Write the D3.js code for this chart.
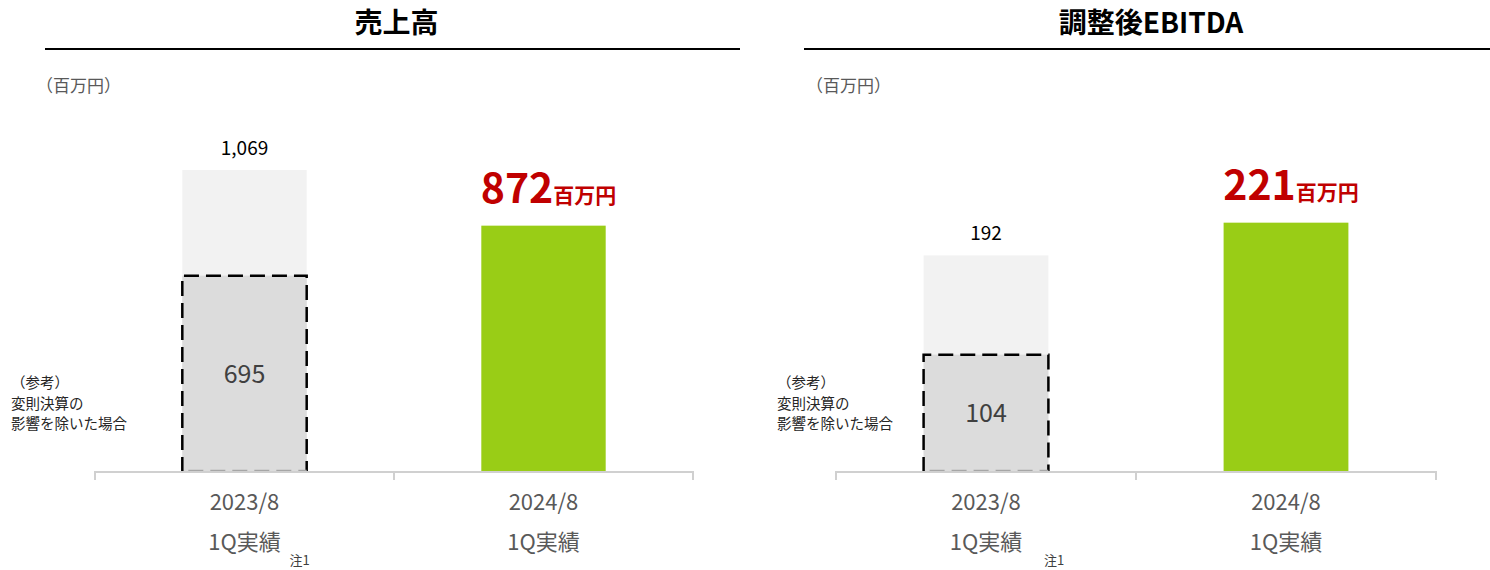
<!DOCTYPE html>
<html>
<head>
<meta charset="utf-8">
<script src="https://cdn.jsdelivr.net/npm/d3@7"></script>
<style>
  body { margin: 0; background: #fff; }
  svg { display: block; font-family: "Noto Sans CJK JP", "Noto Sans", sans-serif; }
</style>
</head>
<body>
<div id="container"></div>
<script>
// data
const categories = ["2023/8", "2024/8"];
const periodLabel = "1Q実績";
const panelTitles = ["売上高", "調整後EBITDA"];
const reported2023 = [1069, 192];   // 2023/8 1Q reported
const adjusted2023 = [695, 104];    // excluding irregular fiscal period effect
const actual2024 = [872, 221];
const yMax = [1246, 312];
const unitLabel = "（百万円）";
const unitSuffix = "百万円";
const noteLines = ["（参考）", "変則決算の", "影響を除いた場合"];
const footnote = "注1";

// layout per panel
const panels = [
  { x0: 95, x1: 693, lineX0: 45, lineX1: 740, unitX: 36, noteX: 11, footDx: 45 },
  { x0: 836, x1: 1436, lineX0: 804, lineX1: 1490, unitX: 806, noteX: 777, footDx: 58 }
];

const width = 1490, height = 570;
const baseY = 472, topY = 120;

const svg = d3.select("#container").append("svg")
  .attr("width", width)
  .attr("height", height);

panels.forEach((p, i) => {
  const g = svg.append("g");

  // title + underline
  g.append("text")
    .attr("x", (p.lineX0 + p.lineX1) / 2 + 4)
    .attr("y", 33)
    .attr("text-anchor", "middle")
    .attr("font-size", 28)
    .attr("font-weight", "bold")
    .attr("fill", "#000")
    .text(panelTitles[i]);
  g.append("line")
    .attr("x1", p.lineX0).attr("x2", p.lineX1)
    .attr("y1", 49).attr("y2", 49)
    .attr("stroke", "#000")
    .attr("stroke-width", 2);

  g.append("text")
    .attr("x", p.unitX)
    .attr("y", 92)
    .attr("font-size", 17)
    .attr("fill", "#595959")
    .text(unitLabel);

  const x = d3.scaleBand()
    .domain(categories)
    .range([p.x0, p.x1])
    .paddingInner(0.584)
    .paddingOuter(0.292);
  const y = d3.scaleLinear()
    .domain([0, yMax[i]])
    .range([baseY, topY]);
  const bw = x.bandwidth();

  const prevX = x(categories[0]);
  const curX = x(categories[1]);

  // reported bar (light)
  g.append("rect")
    .attr("x", prevX).attr("y", y(reported2023[i]))
    .attr("width", bw).attr("height", baseY - y(reported2023[i]))
    .attr("fill", "#f2f2f2");

  // adjusted bar (dashed outline)
  g.append("rect")
    .attr("x", prevX).attr("y", y(adjusted2023[i]))
    .attr("width", bw).attr("height", baseY - y(adjusted2023[i]))
    .attr("fill", "#dcdcdc");
  g.append("path")
    .attr("d", `M${prevX},${baseY}V${y(adjusted2023[i])}H${prevX + bw}V${baseY}`)
    .attr("fill", "none")
    .attr("stroke", "#000")
    .attr("stroke-width", 2.5)
    .attr("stroke-dasharray", "15,7");
  g.append("line")
    .attr("x1", prevX + 6).attr("x2", prevX + bw)
    .attr("y1", baseY - 1).attr("y2", baseY - 1)
    .attr("stroke", "#a6a6a6")
    .attr("stroke-width", 2.5)
    .attr("stroke-dasharray", "15,7");

  // current bar
  g.append("rect")
    .attr("x", curX).attr("y", y(actual2024[i]))
    .attr("width", bw).attr("height", baseY - y(actual2024[i]))
    .attr("fill", "#99cd16");

  // axis with boundary ticks
  const step = x.step();
  let d = `M${p.x0},${baseY + 8}V${baseY}H${p.x1}V${baseY + 8}`;
  d += `M${p.x0 + step},${baseY}V${baseY + 8}`;
  g.append("path")
    .attr("d", d)
    .attr("fill", "none")
    .attr("stroke", "#d0d0d0")
    .attr("stroke-width", 2);

  // value labels
  g.append("text")
    .attr("x", prevX + bw / 2)
    .attr("y", y(reported2023[i]) - 15)
    .attr("text-anchor", "middle")
    .attr("font-size", 19)
    .attr("fill", "#000")
    .text(d3.format(",")(reported2023[i]));

  g.append("text")
    .attr("x", prevX + bw / 2)
    .attr("y", (y(adjusted2023[i]) + baseY) / 2 + 9)
    .attr("text-anchor", "middle")
    .attr("font-size", 25)
    .attr("fill", "#404040")
    .text(adjusted2023[i]);

  const big = g.append("text")
    .attr("x", curX + bw / 2 + 5)
    .attr("y", y(actual2024[i]) - 23)
    .attr("text-anchor", "middle")
    .attr("font-weight", "bold")
    .attr("fill", "#c00000");
  big.append("tspan").attr("font-size", 41).text(actual2024[i]);
  big.append("tspan").attr("font-size", 21).text(unitSuffix);

  // category labels
  categories.forEach(c => {
    g.append("text")
      .attr("x", x(c) + bw / 2)
      .attr("y", 510)
      .attr("text-anchor", "middle")
      .attr("font-size", 22)
      .attr("fill", "#595959")
      .text(c);
    g.append("text")
      .attr("x", x(c) + bw / 2)
      .attr("y", 550)
      .attr("text-anchor", "middle")
      .attr("font-size", 22)
      .attr("fill", "#595959")
      .text(periodLabel);
  });

  g.append("text")
    .attr("x", prevX + bw / 2 + p.footDx)
    .attr("y", 565)
    .attr("font-size", 13)
    .attr("fill", "#404040")
    .text(footnote);

  // reference note
  g.append("g").selectAll("text")
    .data(noteLines)
    .join("text")
    .attr("x", p.noteX)
    .attr("y", (t, k) => 388 + k * 20.5)
    .attr("font-size", 14.5)
    .attr("fill", "#262626")
    .text(t => t);
});
</script>
</body>
</html>
